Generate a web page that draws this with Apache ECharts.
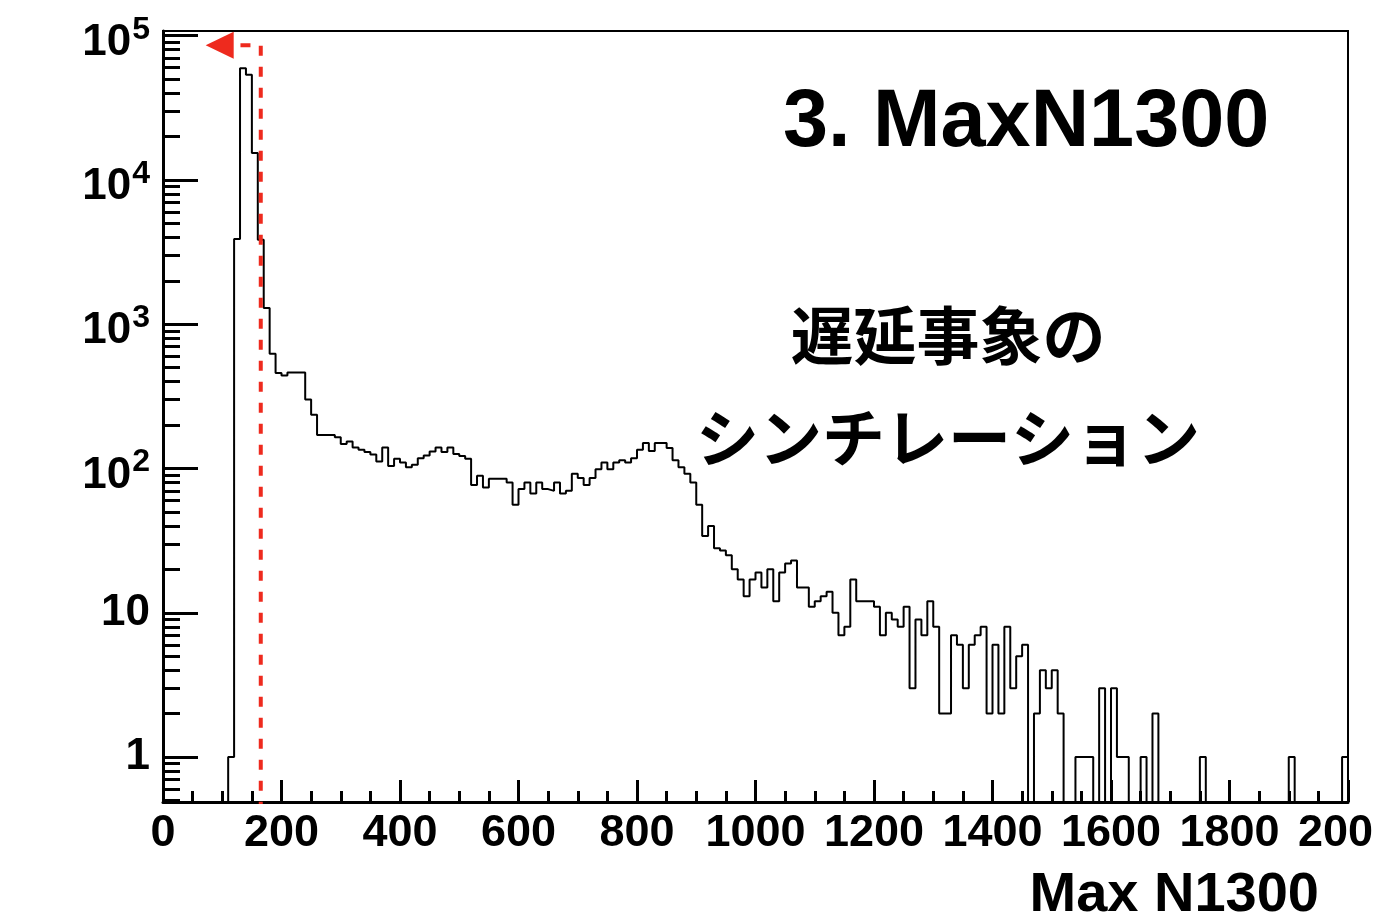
<!DOCTYPE html>
<html>
<head>
<meta charset="utf-8">
<title>Max N1300</title>
<script src="https://cdn.jsdelivr.net/npm/echarts@6.0.0/dist/echarts.min.js"></script>
<style>
  html, body { margin: 0; padding: 0; background: #ffffff; }
  #chart { width: 1374px; height: 922px; }
</style>
</head>
<body>
<div id="chart"></div>
<script>
// Histogram of the maximum N1300 value: 200 bins of width 10 from 0 to 2000.
const binLowEdge = 0;
const binWidth = 10;
const binCounts = [
  0, 0, 0, 0, 0, 0, 0, 0, 0, 0,                        // 0 - 90
  0, 1, 3900, 59600, 53600, 15400, 3850, 1295, 625, 459, // 100 - 190
  441, 463, 463, 463, 301, 236, 171, 171, 171, 165,    // 200 - 290
  148, 154, 140, 135, 130, 125, 112, 140, 104, 117,    // 300 - 390
  110, 102, 106, 118, 123, 131, 140, 130, 140, 126,    // 400 - 490
  122, 117, 77, 89, 74, 85, 85, 85, 80, 56,            // 500 - 590
  72, 80, 67, 80, 72, 70, 80, 67, 70, 92,              // 600 - 690
  86, 77, 86, 99, 110, 99, 110, 114, 110, 118,         // 700 - 790
  135, 150, 132, 150, 150, 139, 114, 102, 92, 80,      // 800 - 890
  56, 34, 40, 28, 27, 25, 20, 17, 13, 17,              // 900 - 990
  19, 15, 20, 12, 19, 22, 23, 15, 15, 11,              // 1000 - 1090
  12, 13, 14, 10, 7, 8, 17, 12, 12, 12,                // 1100 - 1190
  11, 7, 10, 9, 8, 11, 3, 9, 7, 12,                    // 1200 - 1290
  8, 2, 2, 7, 6, 3, 6, 7, 8, 2,                        // 1300 - 1390
  6, 2, 8, 3, 5, 6, 0, 2, 4, 3,                        // 1400 - 1490
  4, 2, 0, 0, 1, 1, 1, 0, 3, 0,                        // 1500 - 1590
  3, 1, 1, 0, 0, 1, 0, 2, 0, 0,                        // 1600 - 1690
  0, 0, 0, 0, 0, 1, 0, 0, 0, 0,                        // 1700 - 1790
  0, 0, 0, 0, 0, 0, 0, 0, 0, 0,                        // 1800 - 1890
  1, 0, 0, 0, 0, 0, 0, 0, 0, 1                         // 1900 - 1990
];

// Axis ranges and tick marks
const xRange = [0, 2000];
const xTickStep = 200;
const yRange = [0.488, 107800];
const yMajorTicks = [1, 10, 100, 1000, 10000, 100000];
const yMinorMultipliers = [2, 3, 4, 5, 6, 7, 8, 9];

// Cut marker: dashed line at MaxN1300 = 165 with an arrow pointing to the accepted side
const cutValue = 165;
const cutArrowLevel = 86000;
const cutArrowTip = 72;
const cutArrowBase = 113;

// Text
const titleText = '3. MaxN1300';
const noteLines = ['遅延事象の', 'シンチレーション'];
const xAxisTitle = 'Max N1300';

// ---------------------------------------------------------------
const latinFont = '"Liberation Sans", Arial, Helvetica, sans-serif';
const cjkFont = '"Noto Sans CJK JP", "Noto Sans CJK SC", sans-serif';
const cutColor = '#ee2a1e';

// Empty bins sit below the visible range and are clipped by the frame
const emptyBinLevel = 1e-3;
const histPoints = binCounts.map((c, i) => [binLowEdge + i * binWidth, c > 0 ? c : emptyBinLevel]);
histPoints.push([binLowEdge + binCounts.length * binWidth, binCounts[binCounts.length - 1] || emptyBinLevel]);

const yMinorTicks = [];
for (let e = -1; e <= 4; e++) {
  yMinorMultipliers.forEach(m => {
    const v = m * Math.pow(10, e);
    if (v > yRange[0] && v < yRange[1]) yMinorTicks.push(v);
  });
}

const cutPath = [[cutValue, emptyBinLevel], [cutValue, cutArrowLevel], [cutArrowBase, cutArrowLevel]];

function yLabel(v) {
  const e = Math.round(Math.log10(v));
  if (e <= 1) return '{p|' + Math.round(v) + '}';
  return '{b|10}{s|' + e + '}';
}

const chart = echarts.init(document.getElementById('chart'), null, { renderer: 'canvas' });

const option = {
  animation: false,
  backgroundColor: '#ffffff',
  grid: {
    left: 163, right: 26, top: 31, bottom: 120,
    show: true, borderColor: '#000000', borderWidth: 2,
    containLabel: false, outerBoundsMode: 'none'
  },
  xAxis: {
    type: 'value',
    min: xRange[0], max: xRange[1], interval: xTickStep,
    axisLine: { show: true, onZero: false, lineStyle: { color: '#000', width: 3 } },
    axisTick: { show: true, inside: true, length: 22, lineStyle: { color: '#000', width: 3 } },
    minorTick: { show: true, splitNumber: 4, length: 11, lineStyle: { color: '#000', width: 3 } },
    splitLine: { show: false },
    minorSplitLine: { show: false },
    axisLabel: {
      show: true, margin: 9, color: '#000',
      fontFamily: latinFont, fontWeight: 'bold', fontSize: 45,
      showMinLabel: true, showMaxLabel: true, hideOverlap: false,
      formatter: v => String(v)
    },
    name: xAxisTitle,
    nameLocation: 'end',
    nameGap: -29,
    nameTextStyle: {
      color: '#000', fontFamily: latinFont, fontWeight: 'bold', fontSize: 56,
      align: 'right', verticalAlign: 'top', padding: [66, 0, 0, 0]
    }
  },
  yAxis: [
    {
      type: 'log', logBase: 10,
      min: yRange[0], max: yRange[1],
      axisLine: { show: true, onZero: false, lineStyle: { color: '#000', width: 3 } },
      axisTick: { show: true, inside: true, length: 35, customValues: yMajorTicks, lineStyle: { color: '#000', width: 3 } },
      minorTick: { show: false },
      splitLine: { show: false },
      axisLabel: {
        show: true, margin: 13, color: '#000',
        customValues: yMajorTicks,
        fontFamily: latinFont, fontWeight: 'bold', fontSize: 44,
        formatter: yLabel,
        rich: {
          p: { fontFamily: latinFont, fontWeight: 'bold', fontSize: 44, color: '#000' },
          b: { fontFamily: latinFont, fontWeight: 'bold', fontSize: 44, lineHeight: 44, color: '#000', padding: [14, 0, 0, 0] },
          s: { fontFamily: latinFont, fontWeight: 'bold', fontSize: 32, lineHeight: 32, color: '#000', verticalAlign: 'top', padding: [0, 0, 0, 1] }
        }
      }
    },
    {
      type: 'log', logBase: 10,
      min: yRange[0], max: yRange[1],
      position: 'left',
      axisLine: { show: false },
      axisTick: { show: true, inside: true, length: 17, customValues: yMinorTicks, lineStyle: { color: '#000', width: 3 } },
      axisLabel: { show: false },
      splitLine: { show: false }
    }
  ],
  series: [
    {
      name: 'MaxN1300',
      type: 'line',
      step: 'end',
      data: histPoints,
      yAxisIndex: 0,
      symbol: 'none',
      clip: true,
      silent: true,
      lineStyle: { color: '#000', width: 2 },
      z: 3
    },
    {
      name: 'cut',
      type: 'line',
      data: cutPath,
      yAxisIndex: 0,
      symbol: 'none',
      clip: true,
      silent: true,
      lineStyle: { color: cutColor, width: 4, type: [10, 11] },
      z: 4
    },
    {
      name: 'cut arrow',
      type: 'scatter',
      data: [[cutArrowTip, cutArrowLevel]],
      yAxisIndex: 0,
      symbol: 'triangle',
      symbolSize: [27, 28],
      symbolRotate: 90,
      symbolOffset: [14, 0],
      silent: true,
      itemStyle: { color: cutColor, opacity: 1 },
      z: 5
    }
  ],
  graphic: [
    {
      type: 'text', left: 783, top: 83, z: 10,
      style: { text: titleText, font: 'bold 81px ' + latinFont, fill: '#000' }
    },
    {
      type: 'text', x: 948, y: 335, z: 10,
      style: { text: noteLines[0], font: 'bold 63px ' + cjkFont, fill: '#000', align: 'center', verticalAlign: 'middle' }
    },
    {
      type: 'text', x: 948, y: 437, z: 10,
      style: { text: noteLines[1], font: 'bold 63px ' + cjkFont, fill: '#000', align: 'center', verticalAlign: 'middle' }
    }
  ]
};

chart.setOption(option);
</script>
</body>
</html>
